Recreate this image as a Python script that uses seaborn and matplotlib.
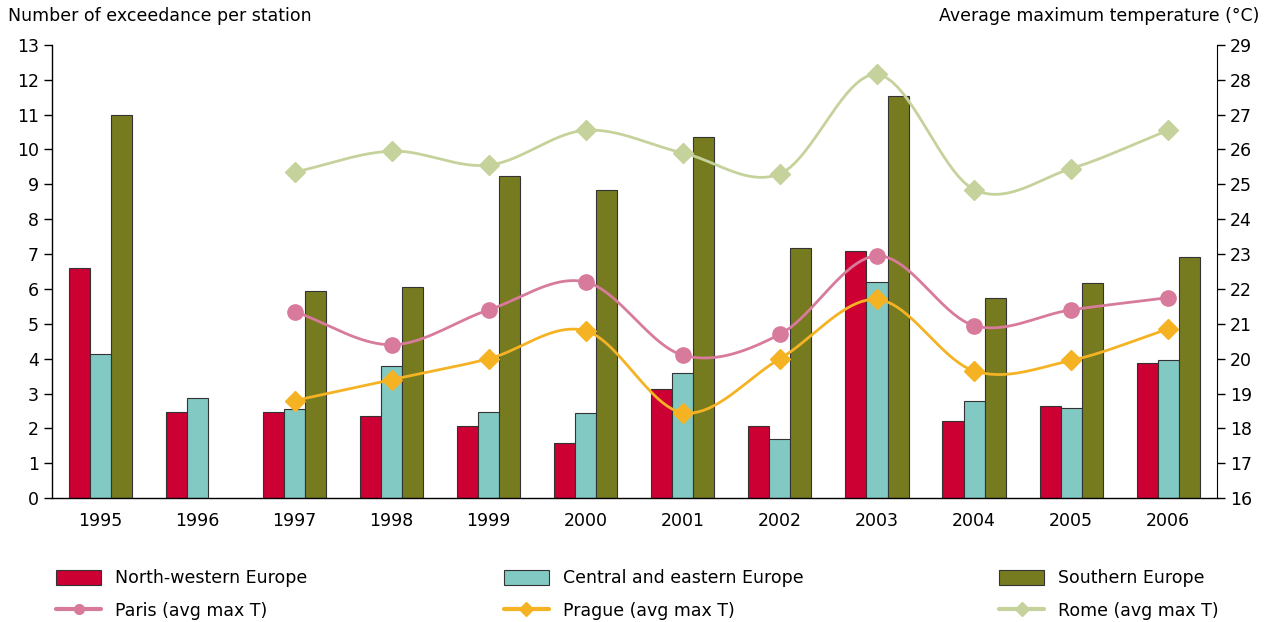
import numpy as np
import pandas as pd
import matplotlib.pyplot as plt
import seaborn as sns
from matplotlib.patches import Patch
from matplotlib.lines import Line2D

years = ['1995', '1996', '1997', '1998', '1999', '2000', '2001', '2002', '2003', '2004', '2005', '2006']
north_western = [6.6, 2.48, 2.48, 2.35, 2.08, 1.57, 3.13, 2.08, 7.08, 2.22, 2.65, 3.88]
central_eastern = [4.13, 2.87, 2.57, 3.78, 2.48, 2.43, 3.58, 1.7, 6.2, 2.78, 2.6, 3.95]
southern = [11.0, np.nan, 5.95, 6.05, 9.25, 8.83, 10.35, 7.18, 11.52, 5.75, 6.18, 6.92]

temp_years = years[2:]
paris = [21.35, 20.4, 21.4, 22.2, 20.1, 20.7, 22.95, 20.95, 21.4, 21.75]
prague = [18.8, 19.4, 20.0, 20.8, 18.45, 20.0, 21.7, 19.65, 19.95, 20.85]
rome = [25.35, 25.95, 25.55, 26.55, 25.9, 25.3, 28.15, 24.85, 25.45, 26.55]

regions = ['North-western Europe', 'Central and eastern Europe', 'Southern Europe']
bar_colors = ['#cc0033', '#82c8c3', '#777b20']
line_colors = {'Paris': '#d87a9b', 'Prague': '#f5b324', 'Rome': '#c5d29b'}

df = pd.DataFrame({'year': years * 3,
                   'region': np.repeat(regions, len(years)),
                   'value': north_western + central_eastern + southern})

sns.set_style('white')
plt.rcParams['font.family'] = ['DejaVu Sans']
plt.rcParams.update({'text.color': 'black', 'axes.labelcolor': 'black',
                     'xtick.color': 'black', 'ytick.color': 'black'})

fig = plt.figure(figsize=(12.7, 6.22), dpi=100)
ax = fig.add_axes([0.041, 0.199, 0.917, 0.729])

sns.barplot(data=df, x='year', y='value', hue='region', palette=bar_colors, saturation=1,
            width=0.65, edgecolor='#333333', linewidth=0.8, ax=ax, legend=False)

ax.set_ylim(0, 13)
ax.set_yticks(range(0, 14))
ax.set_xlim(-0.5, len(years) - 0.5)
ax.set_xlabel('')
ax.set_ylabel('')
ax.tick_params(axis='y', direction='out', length=6, width=1, labelsize=12.5, color='black', left=True)
ax.tick_params(axis='x', length=0, labelsize=12.5, pad=10)
for s in ['top', 'right']:
    ax.spines[s].set_visible(False)
for s in ['left', 'bottom']:
    ax.spines[s].set_color('black')
    ax.spines[s].set_linewidth(1)

ax2 = ax.twinx()
ax2.set_ylim(16, 29)
ax2.set_yticks(range(16, 30))
ax2.tick_params(axis='y', direction='out', length=6, width=1, labelsize=12.5, color='black', right=True)
for s in ['top', 'left', 'bottom']:
    ax2.spines[s].set_visible(False)
ax2.spines['right'].set_color('black')


def smooth(xs, ys, n=20):
    # catmull-rom curve like Excel's smoothed line
    xs = np.asarray(xs, float)
    ys = np.asarray(ys, float)
    px = np.concatenate([[2 * xs[0] - xs[1]], xs, [2 * xs[-1] - xs[-2]]])
    py = np.concatenate([[2 * ys[0] - ys[1]], ys, [2 * ys[-1] - ys[-2]]])
    ox, oy = [], []
    t = np.linspace(0, 1, n)
    for i in range(1, len(px) - 2):
        for p, o in ((px, ox), (py, oy)):
            p0, p1, p2, p3 = p[i - 1], p[i], p[i + 1], p[i + 2]
            o.extend(0.5 * (2 * p1 + (-p0 + p2) * t + (2 * p0 - 5 * p1 + 4 * p2 - p3) * t ** 2
                            + (-p0 + 3 * p1 - 3 * p2 + p3) * t ** 3))
    return ox, oy


tx = [years.index(y) for y in temp_years]
series = [('Paris', paris, 'o', 11), ('Prague', prague, 'D', 10), ('Rome', rome, 'D', 10)]
for name, vals, marker, ms in series:
    c = line_colors[name]
    sx, sy = smooth(tx, vals)
    ax2.plot(sx, sy, color=c, lw=2, zorder=3)
    ax2.plot(tx, vals, linestyle='none', marker=marker, ms=ms, color=c, zorder=4)

fig.text(0.006, 0.975, 'Number of exceedance per station', fontsize=12.5, ha='left', va='center')
fig.text(0.992, 0.975, 'Average maximum temperature (°C)', fontsize=12.5, ha='right', va='center')

handles = []
labels = []
for i, r in enumerate(regions):
    name, vals, marker, ms = series[i]
    handles.append(Patch(facecolor=bar_colors[i], edgecolor='#333333', linewidth=0.8))
    labels.append(r)
    handles.append(Line2D([], [], color=line_colors[name], lw=3, marker=marker, ms=7))
    labels.append(f'{name} (avg max T)')

fig.legend(handles, labels, ncol=3, loc='lower left', mode='expand',
           bbox_to_anchor=(0.032, -0.022, 0.94, 0.1), frameon=False, fontsize=12.5,
           handlelength=2.6, handleheight=1.0, labelspacing=0.85)

fig.savefig('out.png', dpi=100)
